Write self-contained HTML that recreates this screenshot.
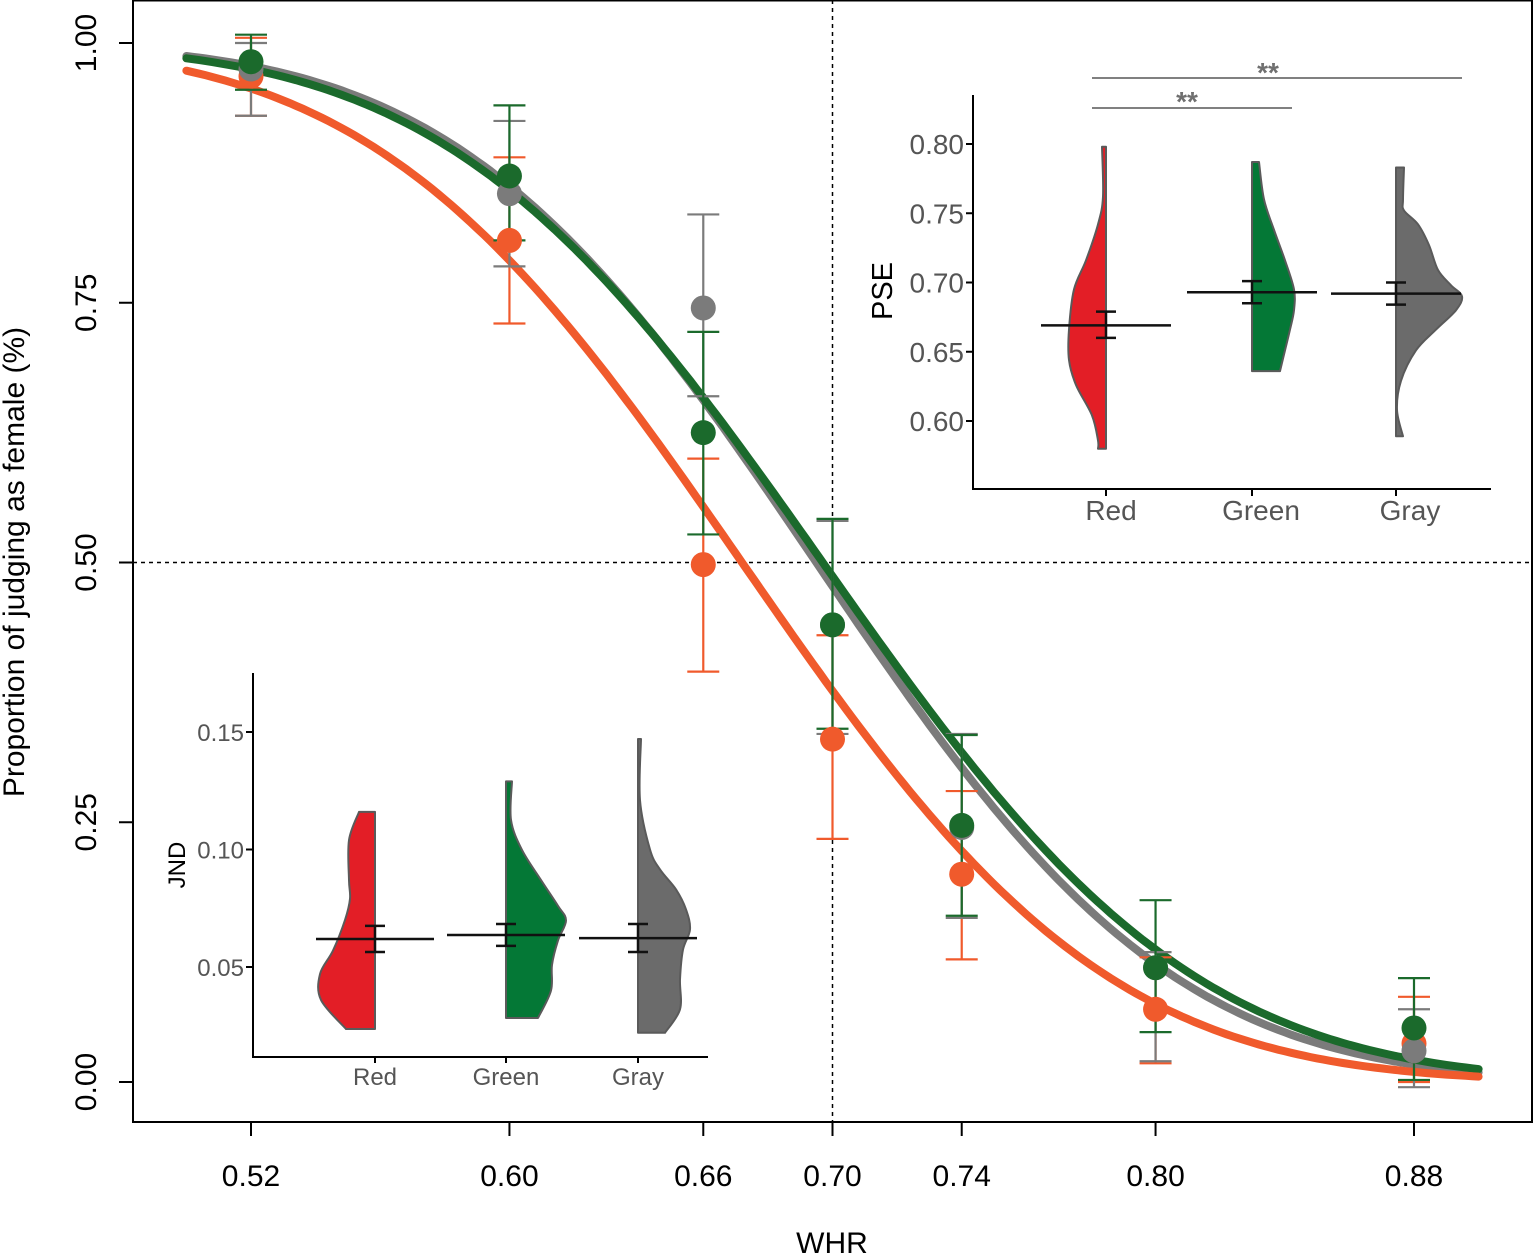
<!DOCTYPE html>
<html><head><meta charset="utf-8"><style>
html,body{margin:0;padding:0;background:#fff}
svg{display:block;font-family:"Liberation Sans",Arial,sans-serif}
</style></head><body>
<svg id="chart" width="1535" height="1256" viewBox="0 0 1535 1256" xmlns="http://www.w3.org/2000/svg"></svg>
<script>
// ===== main data =====
const xTicks = [0.52, 0.60, 0.66, 0.70, 0.74, 0.80, 0.88];
const yTicks = [0.00, 0.25, 0.50, 0.75, 1.00];
const seriesNames = ["Red", "Gray", "Green"];
const pse = [0.672, 0.695, 0.697];
const sigma = [0.089, 0.087, 0.0905];
const redMean = [0.968, 0.81, 0.498, 0.33, 0.20, 0.07, 0.037];
const redLo = [0.93, 0.73, 0.395, 0.234, 0.118, 0.018, 0.0];
const redHi = [1.005, 0.89, 0.60, 0.43, 0.28, 0.12, 0.082];
const grayMean = [0.975, 0.855, 0.745, 0.44, 0.245, 0.11, 0.03];
const grayLo = [0.93, 0.785, 0.66, 0.335, 0.158, 0.02, -0.005];
const grayHi = [1.0, 0.925, 0.835, 0.54, 0.335, 0.125, 0.07];
const greenMean = [0.982, 0.872, 0.625, 0.44, 0.247, 0.11, 0.052];
const greenLo = [0.955, 0.81, 0.527, 0.34, 0.16, 0.048, 0.002];
const greenHi = [1.008, 0.94, 0.722, 0.542, 0.334, 0.175, 0.1];
// ===== PSE inset data =====
const pseTicks = [0.60, 0.65, 0.70, 0.75, 0.80];
const insetCats = ["Red", "Green", "Gray"];
const pseRedV = [0.798,0.762,0.742,0.716,0.695,0.666,0.644,0.626,0.604,0.586,0.580];
const pseRedD = [4,3,8,20,32,37,37,30,14,8,8];
const pseGreenV = [0.787,0.760,0.738,0.716,0.695,0.680,0.666,0.651,0.636];
const pseGreenD = [7,12,22,33,42,42,38,33,28];
const pseGrayV = [0.783,0.760,0.752,0.742,0.727,0.709,0.698,0.690,0.680,0.666,0.651,0.629,0.608,0.589];
const pseGrayD = [8,7,8,22,33,42,55,66,60,40,20,5,1,7];
const pseMean = [0.669, 0.693, 0.692];
const pseLo = [0.660, 0.685, 0.684];
const pseHi = [0.679, 0.701, 0.700];
// ===== JND inset data =====
const jndTicks = [0.05, 0.10, 0.15];
const jndRedV = [0.116,0.104,0.087,0.079,0.070,0.057,0.047,0.036,0.0236];
const jndRedD = [16,26,26,25,30,42,55,54,29];
const jndGreenV = [0.129,0.1126,0.0998,0.087,0.076,0.0698,0.0613,0.0509,0.040,0.0283];
const jndGreenD = [6,5,16,35,52,60,52,46,45,32];
const jndGrayV = [0.147,0.121,0.100,0.0915,0.083,0.0745,0.066,0.0574,0.0447,0.032,0.022];
const jndGrayD = [3,2,12,22,38,48,52,45,42,42,27];
const jndMean = [0.0619, 0.0636, 0.0623];
const jndLo = [0.0564, 0.0590, 0.0564];
const jndHi = [0.0675, 0.0683, 0.0683];

const NS = "http://www.w3.org/2000/svg";
const svg = document.getElementById("chart");
function mk(tag, attrs, parent){const e=document.createElementNS(NS,tag);for(const k in attrs)e.setAttribute(k,attrs[k]);(parent||svg).appendChild(e);return e;}
const X = v => 251 + (v - 0.52) * (1163 / 0.36);
const Y = v => 1082 - v * 1039;
const colors = {Red:"#f05a2c", Gray:"#7b7b7b", Green:"#1b6a2c"};
function erf(x){const s=Math.sign(x);x=Math.abs(x);const t=1/(1+0.3275911*x);const y=1-(((((1.061405429*t-1.453152027)*t)+1.421413741)*t-0.284496736)*t+0.254829592)*t*Math.exp(-x*x);return s*y;}
const ncdf = z => 0.5*(1+erf(z/Math.SQRT2));

// frame
let e = mk("rect",{x:133,y:0.5,width:1399,height:1121.5,fill:"none",stroke:"#000","stroke-width":2});


e = mk("line",{x1:X(0.70),x2:X(0.70),y1:0,y2:1122,stroke:"#000","stroke-width":1.5,"stroke-dasharray":"4,4"});


e = mk("line",{x1:133,x2:1532,y1:Y(0.5),y2:Y(0.5),stroke:"#000","stroke-width":1.5,"stroke-dasharray":"4,4"});



// ticks
xTicks.forEach(t=>{
  let l = mk("line",{x1:X(t),x2:X(t),y1:1122,y2:1136,stroke:"#000","stroke-width":2});
  
  
  let tx = mk("text",{x:X(t),y:1186,"font-size":30,"text-anchor":"middle",fill:"#000"});
  tx.textContent = t.toFixed(2);
  
  
});
yTicks.forEach(t=>{
  let l = mk("line",{x1:119,x2:133,y1:Y(t),y2:Y(t),stroke:"#000","stroke-width":2});
  
  
  let tx = mk("text",{x:0,y:0,"font-size":30,"text-anchor":"middle",fill:"#000",transform:`translate(96,${Y(t)}) rotate(-90)`});
  tx.textContent = t.toFixed(2);
  
  
});
e = mk("text",{x:832,y:1253,"font-size":30,"text-anchor":"middle"});
e.textContent="WHR";


e = mk("text",{x:0,y:0,"font-size":30,"text-anchor":"middle",transform:`translate(24,562) rotate(-90)`});
e.textContent="Proportion of judging as female (%)";



// curves
const curveOrder = [1,2,0];
curveOrder.forEach(i=>{
  let d="";
  for(let v=0.50; v<=0.9015; v+=0.002){
    const p = ncdf((pse[i]-v)/sigma[i]);
    d += (d?"L":"M")+X(v).toFixed(1)+","+Y(p).toFixed(1);
  }
  let c = mk("path",{d:d,fill:"none",stroke:colors[seriesNames[i]],"stroke-width":8,"stroke-linecap":"round"});
  
  
});

// points and error bars
const pts = [[redMean,redLo,redHi,"Red"],[grayMean,grayLo,grayHi,"Gray"],[greenMean,greenLo,greenHi,"Green"]];
pts.forEach(([m,lo,hi,name])=>{
  const col = colors[name];
  xTicks.forEach((xv,j)=>{
    const x = X(xv);
    let g = mk("g",{stroke:col,"stroke-width":2.2});
    
    
    mk("line",{x1:x,x2:x,y1:Y(lo[j]),y2:Y(hi[j])},g);
    mk("line",{x1:x-16,x2:x+16,y1:Y(lo[j]),y2:Y(lo[j])},g);
    mk("line",{x1:x-16,x2:x+16,y1:Y(hi[j]),y2:Y(hi[j])},g);
  });
});
pts.forEach(([m,lo,hi,name])=>{
  xTicks.forEach((xv,j)=>{
    let c = mk("circle",{cx:X(xv),cy:Y(m[j]),r:12.5,fill:colors[name]});
    
    
  });
});

// violin helper (smoothed with catmull-rom)
function violin(vals, dens, cx, Ys, dir, fill, name){
  const P = vals.map((v,k)=>[cx+dir*dens[k], Ys(v)]);
  let d = `M${cx},${P[0][1]}L${P[0][0]},${P[0][1]}`;
  for(let k=0;k<P.length-1;k++){
    const p0=P[Math.max(k-1,0)],p1=P[k],p2=P[k+1],p3=P[Math.min(k+2,P.length-1)];
    const c1=[p1[0]+(p2[0]-p0[0])/6,p1[1]+(p2[1]-p0[1])/6];
    const c2=[p2[0]-(p3[0]-p1[0])/6,p2[1]-(p3[1]-p1[1])/6];
    d+=`C${c1[0]},${c1[1]} ${c2[0]},${c2[1]} ${p2[0]},${p2[1]}`;
  }
  d += `L${cx},${P[P.length-1][1]}Z`;
  let p = mk("path",{d:d,fill:fill,stroke:"#5a5a5a","stroke-width":2,"stroke-linejoin":"round"});
  
  
}
function meanBar(cx, half, Ys, m, lo, hi, name){
  let g = mk("g",{stroke:"#111","stroke-width":2.5});
  
  
  mk("line",{x1:cx-half,x2:cx+half,y1:Ys(m),y2:Ys(m)},g);
  mk("line",{x1:cx,x2:cx,y1:Ys(lo),y2:Ys(hi)},g);
  mk("line",{x1:cx-10,x2:cx+10,y1:Ys(lo),y2:Ys(lo)},g);
  mk("line",{x1:cx-10,x2:cx+10,y1:Ys(hi),y2:Ys(hi)},g);
}
const fills = ["#e31e26","#047836","#6b6b6b"];

// ===== PSE inset =====
const PY = v => 144 + (0.80 - v) * (69.25/0.05);
const pCx = [1106, 1252, 1396];
const pLabelX = [1111, 1261, 1410];
e = mk("path",{d:"M973,95 L973,489 L1491,489",fill:"none",stroke:"#000","stroke-width":2});


pseTicks.forEach(t=>{
  let l=mk("line",{x1:966,x2:973,y1:PY(t),y2:PY(t),stroke:"#000","stroke-width":2});
  
  
  let tx=mk("text",{x:964,y:PY(t)+10,"font-size":28,"text-anchor":"end",fill:"#555"});
  tx.textContent=t.toFixed(2);
  
  
});
insetCats.forEach((c,i)=>{
  let l=mk("line",{x1:pCx[i],x2:pCx[i],y1:489,y2:496,stroke:"#000","stroke-width":2});
  
  
  let tx=mk("text",{x:pLabelX[i],y:520,"font-size":28,"text-anchor":"middle",fill:"#555"});
  tx.textContent=c;
  
  
});
e = mk("text",{x:0,y:0,"font-size":29,"text-anchor":"middle",transform:"translate(892,291) rotate(-90)"});
e.textContent="PSE";


violin(pseRedV,pseRedD,pCx[0],PY,-1,fills[0],'pse-violin-red');
violin(pseGreenV,pseGreenD,pCx[1],PY,1,fills[1],'pse-violin-green');
violin(pseGrayV,pseGrayD,pCx[2],PY,1,fills[2],'pse-violin-gray');
[0,1,2].forEach(i=>meanBar(pCx[i],65,PY,pseMean[i],pseLo[i],pseHi[i],'pse-mean-'+insetCats[i].toLowerCase()));
// significance
[[78,1462,1268,70],[108,1292,1187,99]].forEach(([y,x2,tx,ty],k)=>{
  let l=mk("line",{x1:1092,x2:x2,y1:y,y2:y,stroke:"#808080","stroke-width":2});
  
  
  let t=mk("text",{x:tx,y:ty+12,"font-size":28,"text-anchor":"middle",fill:"#707070","font-weight":"bold"});
  t.textContent="**";
  
  
});

// ===== JND inset =====
const JY = v => 732 + (0.15 - v) * (117.5/0.05);
const jCx = [375, 506, 638];
e = mk("path",{d:"M253,673 L253,1057 L708,1057",fill:"none",stroke:"#000","stroke-width":2});


jndTicks.forEach(t=>{
  let l=mk("line",{x1:246,x2:253,y1:JY(t),y2:JY(t),stroke:"#000","stroke-width":2});
  
  
  let tx=mk("text",{x:244,y:JY(t)+9,"font-size":24,"text-anchor":"end",fill:"#555"});
  tx.textContent=t.toFixed(2);
  
  
});
insetCats.forEach((c,i)=>{
  let l=mk("line",{x1:jCx[i],x2:jCx[i],y1:1057,y2:1063,stroke:"#000","stroke-width":2});
  
  
  let tx=mk("text",{x:jCx[i],y:1085,"font-size":24,"text-anchor":"middle",fill:"#555"});
  tx.textContent=c;
  
  
});
e = mk("text",{x:0,y:0,"font-size":24,"text-anchor":"middle",transform:"translate(185,865) rotate(-90)"});
e.textContent="JND";


violin(jndRedV,jndRedD,jCx[0],JY,-1,fills[0],'jnd-violin-red');
violin(jndGreenV,jndGreenD,jCx[1],JY,1,fills[1],'jnd-violin-green');
violin(jndGrayV,jndGrayD,jCx[2],JY,1,fills[2],'jnd-violin-gray');
[0,1,2].forEach(i=>meanBar(jCx[i],59,JY,jndMean[i],jndLo[i],jndHi[i],'jnd-mean-'+insetCats[i].toLowerCase()));
</script>
</body></html>
